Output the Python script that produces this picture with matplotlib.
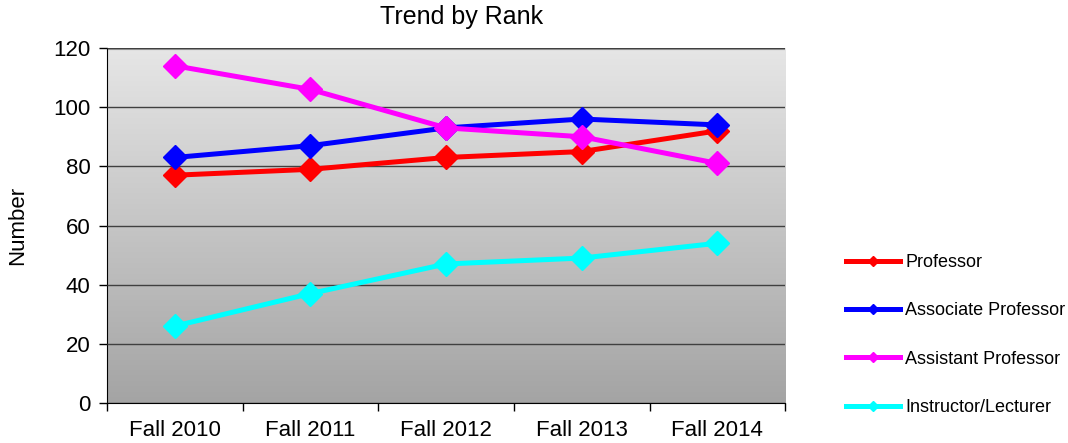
import matplotlib.pyplot as plt
import numpy as np
from matplotlib.lines import Line2D
from matplotlib.colors import LinearSegmentedColormap

# ─── Data ─────────────────────────────────────────────────────────────────────

TERMS      = ["Fall 2010", "Fall 2011", "Fall 2012", "Fall 2013", "Fall 2014"]
PROFESSOR  = [77, 79, 83, 85, 92]
ASSOCIATE  = [83, 87, 93, 96, 94]
ASSISTANT  = [114, 106, 93, 90, 81]
INSTRUCTOR = [26, 37, 47, 49, 54]

SERIES = [
    ("Professor",            PROFESSOR,  "#ff0000"),
    ("Associate Professor",  ASSOCIATE,  "#0000ff"),
    ("Assistant Professor",  ASSISTANT,  "#ff00ff"),
    ("Instructor/Lecturer",  INSTRUCTOR, "#00ffff"),
]

plt.rcParams["font.family"] = ["Liberation Sans", "DejaVu Sans"]

fig = plt.figure(figsize=(10.68, 4.43), dpi=100)
ax = fig.add_axes([0.1002, 0.0903, 0.635, 0.8013])

# gradient background
grad = np.linspace(0, 1, 256).reshape(-1, 1)
ax.imshow(grad, extent=[0, 1, 0, 1], transform=ax.transAxes,
          cmap=LinearSegmentedColormap.from_list("g", ["#e6e6e6", "#a4a4a4"]),
          aspect="auto", zorder=0)

x = np.arange(len(TERMS))
for name, vals, color in SERIES:
    ax.plot(x, vals, color=color, lw=3.6, marker="D", markersize=12,
            zorder=3, solid_joinstyle="round")

ax.set_xlim(-0.5, len(TERMS) - 0.5)
ax.set_ylim(0, 120)
ax.set_yticks(range(0, 121, 20))
ax.set_xticks(np.arange(-0.5, len(TERMS), 1.0))
ax.set_xticklabels([])
ax.set_xticks(x, minor=True)
ax.set_xticklabels(TERMS, minor=True, fontsize=16)
ax.tick_params(axis="x", which="minor", length=0, pad=12)
ax.tick_params(axis="x", which="major", direction="out", length=6, width=1)
ax.tick_params(axis="y", direction="out", length=6, width=1, labelsize=16,
               pad=6)

ax.yaxis.grid(True, color="#404040", lw=1.0, zorder=1)
ax.set_axisbelow(False)
for s in ["top", "right"]:
    ax.spines[s].set_visible(False)
ax.spines["left"].set_color("black")
ax.spines["bottom"].set_color("black")
ax.axhline(120, color="#a0a0a0", lw=3, zorder=2)

ax.set_ylabel("Number", fontsize=16, labelpad=18)
fig.text(462 / 1068, 1 - 17 / 443, "Trend by Rank", fontsize=18,
         ha="center", va="center")

handles = [Line2D([], [], color=c, lw=3.6, marker="D", markersize=5)
           for _, _, c in SERIES]
fig.legend(handles, [n for n, _, _ in SERIES], loc="upper left",
           bbox_to_anchor=(0.792, 0.427), frameon=False, fontsize=13,
           labelspacing=1.74, handlelength=3.0, handletextpad=0.3,
           borderpad=0, borderaxespad=0)

fig.savefig("out.png", dpi=100, facecolor="white")
